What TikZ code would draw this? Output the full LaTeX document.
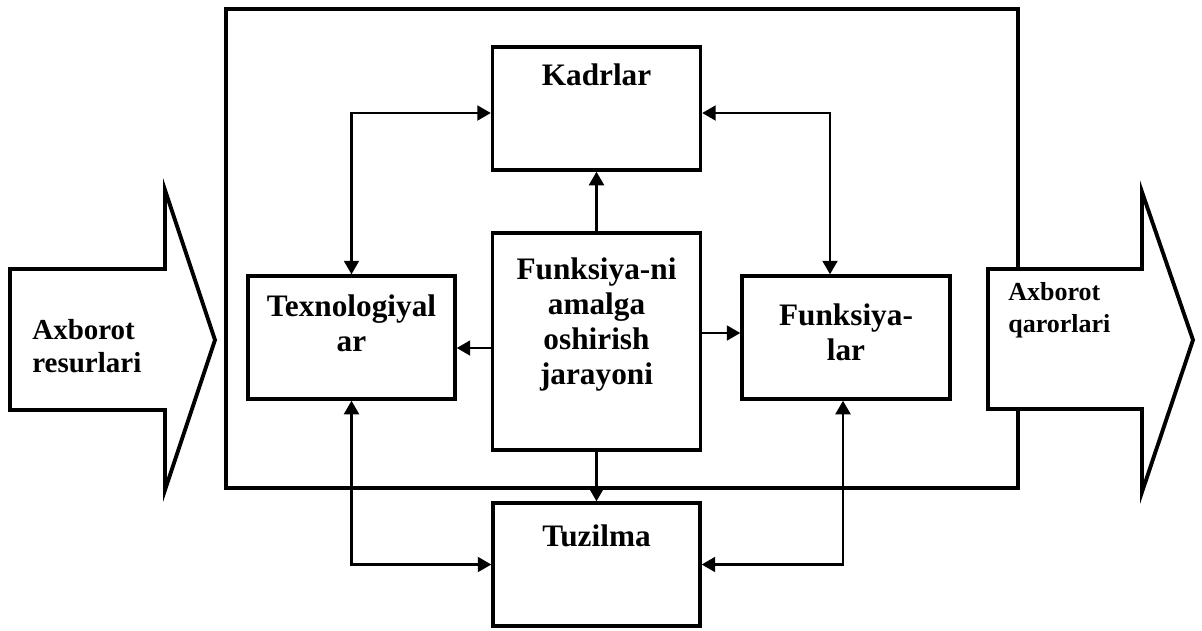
\documentclass[tikz,border=0pt]{standalone}
\usepackage{fontspec}
\setmainfont{Liberation Serif}
\usetikzlibrary{arrows.meta,positioning}

\begin{document}
\begin{tikzpicture}[
    x=0.02cm, y=-0.02cm,
    block/.style={rectangle, draw=black, line width=2pt, fill=white, inner sep=0pt},
    blocktext/.style={inner sep=0pt, align=center, font=\fontsize{17.8}{20}\selectfont\bfseries},
    flow/.style={draw=black, line width=2.2pt, fill=white, line join=miter},
    flowtext/.style={inner sep=0pt, align=left, anchor=north west},
    arrow/.style={-{Triangle[length=0.27cm, width=0.3cm]}, line width=1.2pt},
    biarrow/.style={{Triangle[length=0.27cm, width=0.3cm]}-{Triangle[length=0.27cm, width=0.3cm]}, line width=1.2pt}
]
\useasboundingbox (0,0) rectangle (1202,630);

% outer frame
\draw[line width=2.3pt] (226,9) rectangle (1018,488);

% input / output
\draw[flow] (10,269) -- (165,269) -- (165,190) -- (215,340) -- (165,490) -- (165,410) -- (10,410) -- cycle;
\draw[flow] (988,269) -- (1142,269) -- (1142,192) -- (1193,340) -- (1142,492) -- (1142,409) -- (988,409) -- cycle;

\node[flowtext, font=\fontsize{16.5}{18.8}\selectfont\bfseries] (resurs) at (32,319) {Axborot\\resurlari};
\node[flowtext, font=\fontsize{14.8}{18.2}\selectfont\bfseries] (qaror) at (1008,282) {Axborot\\qarorlari};

% blocks
\node[block, minimum width=4.16cm, minimum height=2.46cm] (kadrlar) at (596.5,108.5) {};
\node[block, minimum width=4.16cm, minimum height=4.34cm] (central) at (596.5,341.5) {};
\node[block, minimum width=4.14cm, minimum height=2.46cm] (texno) at (351.5,337.5) {};
\node[block, minimum width=4.16cm, minimum height=2.46cm] (funks) at (846,337.5) {};
\node[block, minimum width=4.14cm, minimum height=2.46cm] (tuzilma) at (596.5,564.5) {};

\node[blocktext, below=0.36cm of kadrlar.north] (kadrlar-text) {Kadrlar};
\node[blocktext, below=0.52cm of central.north] (central-text) {Funksiya-ni\\amalga\\oshirish\\jarayoni};
\node[blocktext, below=0.4cm of texno.north] (texno-text) {Texnologiyal\\ar};
\node[blocktext, below=0.58cm of funks.north] (funks-text) {Funksiya-\\lar};
\node[blocktext, below=0.46cm of tuzilma.north] (tuzilma-text) {Tuzilma};

% links
\draw[arrow] (central.north) -- (kadrlar.south);
\draw[arrow] (central.south) -- (tuzilma.north);
\draw[arrow] (central.west |- 0,348) -- (texno.east |- 0,348);
\draw[arrow] (central.east |- 0,333) -- (funks.west |- 0,333);
\draw[biarrow] (texno.north) |- (kadrlar.west |- 0,113);
\draw[biarrow] (funks.north -| 830,0) |- (kadrlar.east |- 0,113);
\draw[biarrow] (texno.south) |- (tuzilma.west);
\draw[biarrow] (funks.south -| 843,0) |- (tuzilma.east);

\end{tikzpicture}
\end{document}
